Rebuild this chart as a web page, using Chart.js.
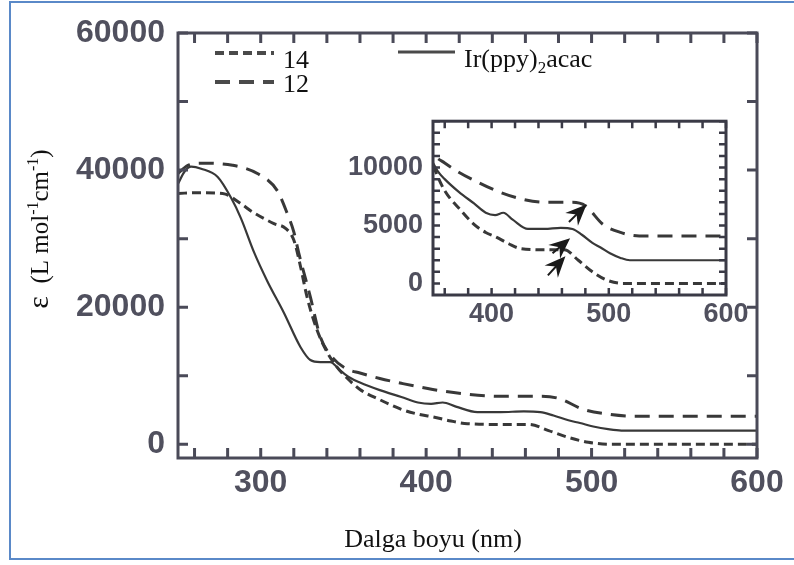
<!DOCTYPE html>
<html><head><meta charset="utf-8">
<script src="https://cdn.jsdelivr.net/npm/chart.js@4/dist/chart.umd.min.js"></script>
<style>
html,body{margin:0;padding:0;background:#fff;}
#wrap{position:relative;width:794px;height:565px;overflow:hidden;background:#fff;}
#frame{position:absolute;left:9px;top:1px;width:820px;height:559px;border:2px solid #5a89c8;box-sizing:border-box;pointer-events:none;}
#main{position:absolute;left:0;top:0;}
#inset{position:absolute;left:330px;top:95px;}
</style></head>
<body>
<div id="wrap">
<canvas id="main" width="794" height="565"></canvas>
<canvas id="inset" width="440" height="240"></canvas>
<div id="frame"></div>
</div>
<script>
// ---- data (wavelength nm, epsilon L mol-1 cm-1) ----
const series14X = [250,262,277,288,295,308,315,320,324,328,334,340,346,352,360,372,385,395,404,415,425,445,462,474,486,498,512,600];
const series14Y = [36600,36700,36600,35100,33900,32200,31500,29800,26000,21500,16700,13500,11300,9700,8000,6500,5100,4400,4000,3400,3000,2900,2900,2000,1000,300,0,0];
const series12X = [250,256,265,283,298,310,316,320,323,330,336,344,352,360,372,385,404,425,445,469,480,495,510,526,600];
const series12Y = [39500,40700,41000,40700,39500,37000,33700,31000,27900,21500,15700,12500,11000,10400,9600,8900,8000,7300,7000,7000,6700,5100,4400,4100,4100];
const seriesIrX = [250,254,258,264,274,282,288,296,304,314,324,330,336,342,348,354,360,372,385,395,403,410,418,431,445,459,469,477,486,493,501,510,518,530,600];
const seriesIrY = [38000,39800,40500,40200,39000,36000,33000,28000,23800,19200,14200,12300,12000,12000,10800,9700,9000,7900,6900,6100,5900,6100,5500,4700,4700,4800,4700,4200,3500,3100,2600,2200,2000,2000,2000];
const seriesNames = ['14','12','Ir(ppy)','2','acac'];
const mainXLabels = [300,400,500,600];
const mainYLabels = [0,20000,40000,60000];
const insetXLabels = [400,500,600];
const insetYLabels = [0,5000,10000];
const arrowTails = [[466,5300],[452,2600],[448,700]];
const arrowTips  = [[481,6800],[467,3900],[463,2350]];
const xTitle = 'Dalga boyu (nm)';

const LINE = '#383838';
function pts(xs, ys){ return xs.map((x,i)=>({x:x, y:ys[i]})); }
function datasets(){
  const common = {pointRadius:0, fill:false, cubicInterpolationMode:'monotone', borderColor:LINE};
  return [
    Object.assign({label:seriesNames[0], data:pts(series14X,series14Y), borderWidth:3, borderDash:[9,5]}, common),
    Object.assign({label:seriesNames[1], data:pts(series12X,series12Y), borderWidth:3, borderDash:[15,9]}, common),
    Object.assign({label:seriesNames[2]+seriesNames[3]+seriesNames[4], data:pts(seriesIrX,seriesIrY), borderWidth:2.2}, common)
  ];
}
const plain = v => String(v);

const frameTicks = {
  id:'frameTicks',
  afterDraw(chart, args, o){
    const ctx = chart.ctx, a = chart.chartArea, x = chart.scales.x, y = chart.scales.y;
    ctx.save();
    ctx.strokeStyle = o.color; ctx.lineWidth = o.tickWidth;
    ctx.beginPath();
    for(let v=o.xStart; v<=x.max+1e-6; v+=o.xStep){
      const p = x.getPixelForValue(v);
      ctx.moveTo(p,a.bottom); ctx.lineTo(p,a.bottom-o.len);
      ctx.moveTo(p,a.top); ctx.lineTo(p,a.top+o.len);
    }
    for(let v=o.yStart; v<=y.max+1e-6; v+=o.yStep){
      const p = y.getPixelForValue(v);
      ctx.moveTo(a.left,p); ctx.lineTo(a.left+o.len,p);
      ctx.moveTo(a.right,p); ctx.lineTo(a.right-o.len,p);
    }
    ctx.stroke();
    ctx.lineWidth = o.frameWidth;
    ctx.strokeRect(a.left,a.top,a.width,a.height);
    ctx.restore();
  }
};

const decorations = {
  id:'decorations',
  afterDraw(chart){
    const ctx = chart.ctx, ds = chart.data.datasets;
    ctx.save();
    function sample(d, x1, x2, yy){
      ctx.save(); ctx.strokeStyle = '#4a4a4a'; ctx.lineWidth = d.borderWidth+0.8;
      ctx.setLineDash(d.borderDash || []); ctx.beginPath(); ctx.moveTo(x1,yy); ctx.lineTo(x2,yy); ctx.stroke(); ctx.restore();
    }
    sample(ds[0], 215, 274, 53);
    sample(ds[1], 215, 274, 82);
    sample(ds[2], 398, 455, 52);
    ctx.fillStyle = '#111';
    ctx.textBaseline = 'alphabetic';
    ctx.font = '26px "Liberation Serif", "Times New Roman", serif';
    ctx.fillText(seriesNames[0], 283, 68);
    ctx.fillText(seriesNames[1], 283, 92);
    let px = 464;
    ctx.fillText(seriesNames[2], px, 67); px += ctx.measureText(seriesNames[2]).width;
    ctx.font = '17px "Liberation Serif", serif';
    ctx.fillText(seriesNames[3], px, 73); px += ctx.measureText(seriesNames[3]).width;
    ctx.font = '26px "Liberation Serif", serif';
    ctx.fillText(seriesNames[4], px, 67);
    ctx.textAlign = 'center';
    ctx.font = '26px "Liberation Serif", serif';
    ctx.fillText(xTitle, 433, 547);
    ctx.save();
    ctx.translate(48, 229);
    ctx.rotate(-Math.PI/2);
    const parts = [['\u03b5',30,0],['  (L mol',25,0],['-1',16,-10],['cm',25,0],['-1',16,-10],[')',25,0]];
    let total = 0;
    parts.forEach(p=>{ ctx.font = p[1]+'px "Liberation Serif", serif'; total += ctx.measureText(p[0]).width; });
    let cx = -total/2;
    ctx.textAlign = 'left';
    parts.forEach(p=>{ ctx.font = p[1]+'px "Liberation Serif", serif'; ctx.fillText(p[0], cx, p[2]); cx += ctx.measureText(p[0]).width; });
    ctx.restore();
    ctx.restore();
  }
};

const arrows = {
  id:'arrows',
  afterDraw(chart){
    const ctx = chart.ctx, x = chart.scales.x, y = chart.scales.y;
    ctx.save(); ctx.fillStyle = '#1a1a1a'; ctx.strokeStyle = '#1a1a1a'; ctx.lineWidth = 2;
    arrowTips.forEach((t,i)=>{
      const tx = x.getPixelForValue(t[0]), ty = y.getPixelForValue(t[1]);
      const fx = x.getPixelForValue(arrowTails[i][0]), fy = y.getPixelForValue(arrowTails[i][1]);
      const ang = Math.atan2(ty-fy, tx-fx);
      ctx.save(); ctx.translate(tx,ty); ctx.rotate(ang);
      const L = Math.hypot(tx-fx, ty-fy);
      ctx.beginPath(); ctx.moveTo(-L,0); ctx.lineTo(-10,0); ctx.stroke();
      ctx.beginPath(); ctx.moveTo(0,0); ctx.lineTo(-21,-9); ctx.lineTo(-14,0); ctx.lineTo(-21,9); ctx.closePath(); ctx.fill();
      ctx.restore();
    });
    ctx.restore();
  }
};

const TICKFONT = {family:'"Liberation Sans", Arial, sans-serif', size:32, weight:'bold'};
const TICKCOLOR = '#50505e';

new Chart(document.getElementById('main'), {
  type:'line',
  data:{datasets:datasets()},
  options:{
    responsive:false, animation:false, devicePixelRatio:1,
    layout:{padding:{left:0, top:33, right:37, bottom:0}},
    plugins:{legend:{display:false}, tooltip:{enabled:false},
      frameTicks:{color:'#4a4a58', tickWidth:3, frameWidth:3, len:10, xStart:260, xStep:20, yStart:0, yStep:10000}},
    scales:{
      x:{type:'linear', min:250, max:600,
        grid:{display:false, drawTicks:false}, border:{display:false},
        afterBuildTicks:s=>{ s.ticks = mainXLabels.map(v=>({value:v})); },
        afterFit:s=>{ s.height = 107; },
        ticks:{font:TICKFONT, color:TICKCOLOR, padding:6, maxRotation:0, autoSkip:false, callback:plain}},
      y:{type:'linear', min:-2000, max:60000,
        grid:{display:false, drawTicks:false}, border:{display:false},
        afterBuildTicks:s=>{ s.ticks = mainYLabels.map(v=>({value:v})); },
        afterFit:s=>{ s.width = 178; },
        ticks:{font:TICKFONT, color:TICKCOLOR, padding:13, callback:plain}}
    }
  },
  plugins:[frameTicks, decorations]
});

const INFONT = {family:'"Liberation Sans", Arial, sans-serif', size:27, weight:'bold'};
new Chart(document.getElementById('inset'), {
  type:'line',
  data:{datasets:datasets()},
  options:{
    responsive:false, animation:false, devicePixelRatio:1,
    layout:{padding:{left:0, top:8, right:44, bottom:0}},
    plugins:{legend:{display:false}, tooltip:{enabled:false},
      frameTicks:{color:'#3a3a46', tickWidth:2.5, frameWidth:3, len:7, xStart:360, xStep:20, yStart:0, yStep:1000}},
    scales:{
      x:{type:'linear', min:350, max:600,
        grid:{display:false, drawTicks:false}, border:{display:false},
        afterBuildTicks:s=>{ s.ticks = insetXLabels.map(v=>({value:v})); },
        afterFit:s=>{ s.height = 40; },
        ticks:{font:INFONT, color:TICKCOLOR, padding:3, maxRotation:0, autoSkip:false, callback:plain}},
      y:{type:'linear', min:-1000, max:14000,
        grid:{display:false, drawTicks:false}, border:{display:false},
        afterBuildTicks:s=>{ s.ticks = insetYLabels.map(v=>({value:v})); },
        afterFit:s=>{ s.width = 103; },
        ticks:{font:INFONT, color:TICKCOLOR, padding:10, callback:plain}}
    }
  },
  plugins:[frameTicks, arrows]
});
</script>
</body></html>
